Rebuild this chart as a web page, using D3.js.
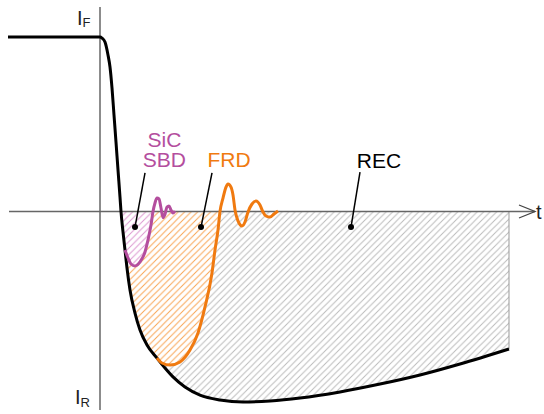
<!DOCTYPE html>
<html><head><meta charset="utf-8">
<script src="https://cdn.jsdelivr.net/npm/d3@7"></script>
<style>body{margin:0;background:#fff}svg{display:block;font-family:"Liberation Sans",Arial,sans-serif}</style>
</head><body><svg id="c" width="544" height="414"></svg>
<script>
// time (ns-like units) and normalised current (I_F = 1)
const recT = [-23, 0, 0.5, 1.25, 2, 2.5, 3, 3.5, 4, 4.5, 5, 5.25, 5.75, 6.25, 6.75, 7.5, 8.75, 10, 11.75, 14.25, 16.25, 18.25, 21.25, 25, 30, 35.75, 42.5, 50, 60, 70, 80, 90, 102.25];
const recI = [1, 1, 0.994, 0.971, 0.897, 0.828, 0.708, 0.553, 0.398, 0.238, 0.083, 0, -0.117, -0.221, -0.324, -0.450, -0.582, -0.679, -0.765, -0.840, -0.897, -0.948, -1.006, -1.052, -1.080, -1.092, -1.086, -1.069, -1.034, -0.989, -0.937, -0.874, -0.788];

const frdT = [14.25, 15.5, 17.5, 20, 22.5, 24.5, 26.25, 28, 28.75, 29.5, 30, 30.75, 31.5, 32, 32.75, 33.25, 33.75, 34.5, 35.5, 36.25, 37, 38, 39, 40, 40.75, 41.5, 42.5, 43.5, 44.5];
const frdI = [-0.840, -0.868, -0.880, -0.862, -0.794, -0.696, -0.547, -0.352, -0.221, -0.106, 0, 0.077, 0.140, 0.158, 0.140, 0.095, 0.009, -0.054, -0.083, -0.060, -0.003, 0.043, 0.060, 0.037, -0.003, -0.026, -0.032, -0.014, 0.003];

const sbdT = [6.25, 7, 7.75, 8.75, 10, 11.25, 12, 12.75, 13.25, 13.75, 14.25, 14.75, 15.25, 15.75, 16.25, 16.75, 17.25, 17.75, 18.25, 18.75];
const sbdI = [-0.221, -0.266, -0.301, -0.312, -0.289, -0.232, -0.163, -0.077, 0, 0.049, 0.077, 0.072, 0.020, -0.035, -0.015, 0.026, 0.032, 0.009, -0.009, 0.003];

const labels = ["SiC", "SBD", "FRD", "REC"];
const axisLabels = ["I", "F", "R", "t"];

const svg = d3.select("#c");
const x = d3.scaleLinear().domain([0, 100]).range([100, 500]);
const y = d3.scaleLinear().domain([0, 1]).range([211.5, 37]);

const rec = recT.map((t, i) => [t, recI[i]]);
const frd = frdT.map((t, i) => [t, frdI[i]]);
const sbd = sbdT.map((t, i) => [t, sbdI[i]]);

const line = d3.line().x(d => x(d[0])).y(d => y(d[1])).curve(d3.curveMonotoneX);
const region = segs => segs.map((s, i) => { const p = line(s); return i ? p.replace(/^M/, "L") : p; }).join("");

const tEnd = recT[recT.length - 1];
const tCross = 5.25;
const frdStart = frdT[0], sbdStart = sbdT[0];
const frdCross = 30, sbdCross = 13.25;

// patterns
const defs = svg.append("defs");
function hatch(id, color) {
  const s = 6.5;
  const p = defs.append("pattern").attr("id", id).attr("patternUnits", "userSpaceOnUse")
    .attr("width", s).attr("height", s);
  p.append("path").attr("d", `M-1,1 L1,-1 M0,${s} L${s},0 M${s - 1},${s + 1} L${s + 1},${s - 1}`)
    .attr("stroke", color).attr("stroke-width", 1).attr("fill", "none");
}
hatch("hg", "#bcbcbc");
hatch("ho", "#f8a555");
hatch("hp", "#dc98d0");

const gHatch = svg.append("g");
const gray = region([rec.filter(d => d[0] >= tCross)]) + `L${x(tEnd)},${y(0)}Z`;
gHatch.append("path").attr("d", gray).attr("fill", "url(#hg)");
const oreg = region([rec.filter(d => d[0] >= tCross && d[0] <= frdStart), frd.filter(d => d[0] <= frdCross)]) + "Z";
gHatch.append("path").attr("d", oreg).attr("fill", "#ffffff");
gHatch.append("path").attr("d", oreg).attr("fill", "url(#ho)");
const preg = region([rec.filter(d => d[0] >= tCross && d[0] <= sbdStart), sbd.filter(d => d[0] <= sbdCross)]) + "Z";
gHatch.append("path").attr("d", preg).attr("fill", "#ffffff");
gHatch.append("path").attr("d", preg).attr("fill", "url(#hp)");

// right edge
svg.append("line").attr("x1", x(tEnd)).attr("x2", x(tEnd)).attr("y1", y(0)).attr("y2", y(recI[recI.length - 1]))
  .attr("stroke", "#999").attr("stroke-width", 1);

// axes
const axisColor = "#666";
svg.append("line").attr("x1", 9).attr("x2", 535).attr("y1", y(0)).attr("y2", y(0))
  .attr("stroke", axisColor).attr("stroke-width", 1.5);
svg.append("path").attr("d", `M519,${y(0) - 6.5}L535,${y(0)}L519,${y(0) + 6.5}`)
  .attr("fill", "none").attr("stroke", "#444").attr("stroke-width", 1.3);
svg.append("line").attr("x1", x(0)).attr("x2", x(0)).attr("y1", 7).attr("y2", 410)
  .attr("stroke", axisColor).attr("stroke-width", 1.5);

// curves
svg.append("path").attr("d", line(rec)).attr("fill", "none").attr("stroke", "#000").attr("stroke-width", 3);
svg.append("path").attr("d", line(frd)).attr("fill", "none").attr("stroke", "#f07a10").attr("stroke-width", 3);
svg.append("path").attr("d", line(sbd)).attr("fill", "none").attr("stroke", "#b44e9e").attr("stroke-width", 3);

// axis labels
const il = svg.append("text").attr("x", 77).attr("y", 25).attr("font-size", 20).attr("fill", "#222");
il.append("tspan").text(axisLabels[0]);
il.append("tspan").attr("font-size", 13).attr("dy", 2).text(axisLabels[1]);
const ir = svg.append("text").attr("x", 75).attr("y", 404).attr("font-size", 20).attr("fill", "#222");
ir.append("tspan").text(axisLabels[0]);
ir.append("tspan").attr("font-size", 13).attr("dy", 2.5).text(axisLabels[2]);
svg.append("text").attr("x", 536).attr("y", 219).attr("font-size", 20).attr("fill", "#222").text(axisLabels[3]);

// labels with leaders
const ann = [
  {lines: [labels[0], labels[1]], color: "#b44e9e", tx: 16.1, ty: 0.37, lt: 11.25, li: 0.221, dt: 8.75, di: -0.089},
  {lines: [labels[2]], color: "#f07a10", tx: 32.25, ty: 0.255, lt: 28, li: 0.221, dt: 25.25, di: -0.089},
  {lines: [labels[3]], color: "#000", tx: 69.75, ty: 0.25, lt: 65, li: 0.226, dt: 62.75, di: -0.089}
];
ann.forEach(a => {
  a.lines.forEach((s, i) => {
    svg.append("text").attr("text-anchor", "middle").attr("font-size", 21).attr("fill", a.color)
      .attr("x", x(a.tx)).attr("y", y(a.ty) + i * 20.5).text(s);
  });
  svg.append("line").attr("x1", x(a.lt)).attr("y1", y(a.li)).attr("x2", x(a.dt)).attr("y2", y(a.di))
    .attr("stroke", "#000").attr("stroke-width", 1.5);
  svg.append("circle").attr("cx", x(a.dt)).attr("cy", y(a.di)).attr("r", 3).attr("fill", "#000");
});
</script></body></html>
